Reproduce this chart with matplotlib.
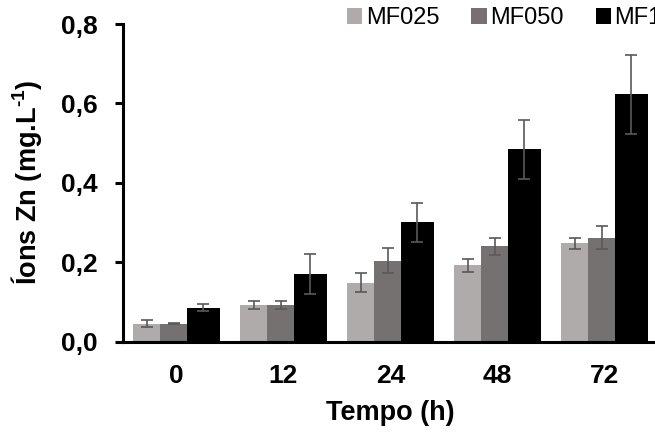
import matplotlib.pyplot as plt
import numpy as np

plt.rcParams['font.family'] = ['Liberation Sans', 'DejaVu Sans']
plt.rcParams['font.weight'] = 'bold'
plt.rcParams['mathtext.fontset'] = 'custom'
plt.rcParams['mathtext.rm'] = 'Liberation Sans:bold'
plt.rcParams['mathtext.it'] = 'Liberation Sans:bold'
plt.rcParams['mathtext.bf'] = 'Liberation Sans:bold'

# data
tempos = ['0', '12', '24', '48', '72']
series = ['MF025', 'MF050', 'MF100']
mf025 = [0.045, 0.093, 0.148, 0.192, 0.247]
mf025_err = [0.008, 0.010, 0.024, 0.017, 0.013]
mf050 = [0.045, 0.091, 0.204, 0.240, 0.262]
mf050_err = [0.002, 0.010, 0.031, 0.022, 0.028]
mf100 = [0.085, 0.170, 0.300, 0.484, 0.623]
mf100_err = [0.009, 0.050, 0.050, 0.075, 0.100]
yticks = [0.0, 0.2, 0.4, 0.6, 0.8]
ytick_labels = ['0,0', '0,2', '0,4', '0,6', '0,8']

values = [mf025, mf050, mf100]
errors = [mf025_err, mf050_err, mf100_err]
colors = ['#AFABAB', '#767171', '#000000']
offsets = [-0.28, -0.028, 0.25]
widths = [0.248, 0.252, 0.304]

fig = plt.figure(figsize=(6.55, 4.32), dpi=100)
ax = fig.add_axes([123/655, 90.5/432, 535/655, 317.5/432])

x = np.arange(len(tempos))
for i in range(3):
    ax.bar(x + offsets[i], values[i], widths[i], yerr=errors[i], color=colors[i],
           label=series[i],
           error_kw=dict(ecolor='#595959', elinewidth=1.2, capsize=4.6, capthick=1.2))

ax.set_xlim(-0.5, 4.5)
ax.set_ylim(0, 0.8)
ax.set_xticks(x)
ax.set_xticklabels(tempos)
ax.set_yticks(yticks)
ax.set_yticklabels(ytick_labels)

for s in ['top', 'right']:
    ax.spines[s].set_visible(False)
for s in ['left', 'bottom']:
    ax.spines[s].set_linewidth(2.2)
    ax.spines[s].set_color('black')

ax.tick_params(axis='y', length=6, width=2.2, pad=12, labelsize=19)
ax.tick_params(axis='x', length=0, pad=16, labelsize=19)

ax.set_xlabel('Tempo (h)', fontsize=19.5, fontweight='bold', labelpad=9)
ax.set_ylabel(r'Íons Zn (mg.L$^{\text{-}1}$)', fontsize=19.5, fontweight='bold')
ax.yaxis.set_label_coords(-0.148, 0.5)

fig.legend(loc='center left', bbox_to_anchor=(347/655, 1 - 18/432), ncol=3,
           frameon=False, prop={'weight': 'normal', 'size': 17},
           handlelength=0.65, handleheight=0.65, handletextpad=0.15,
           columnspacing=1.35, borderpad=0, borderaxespad=0)

fig.savefig('out.png', dpi=100)
